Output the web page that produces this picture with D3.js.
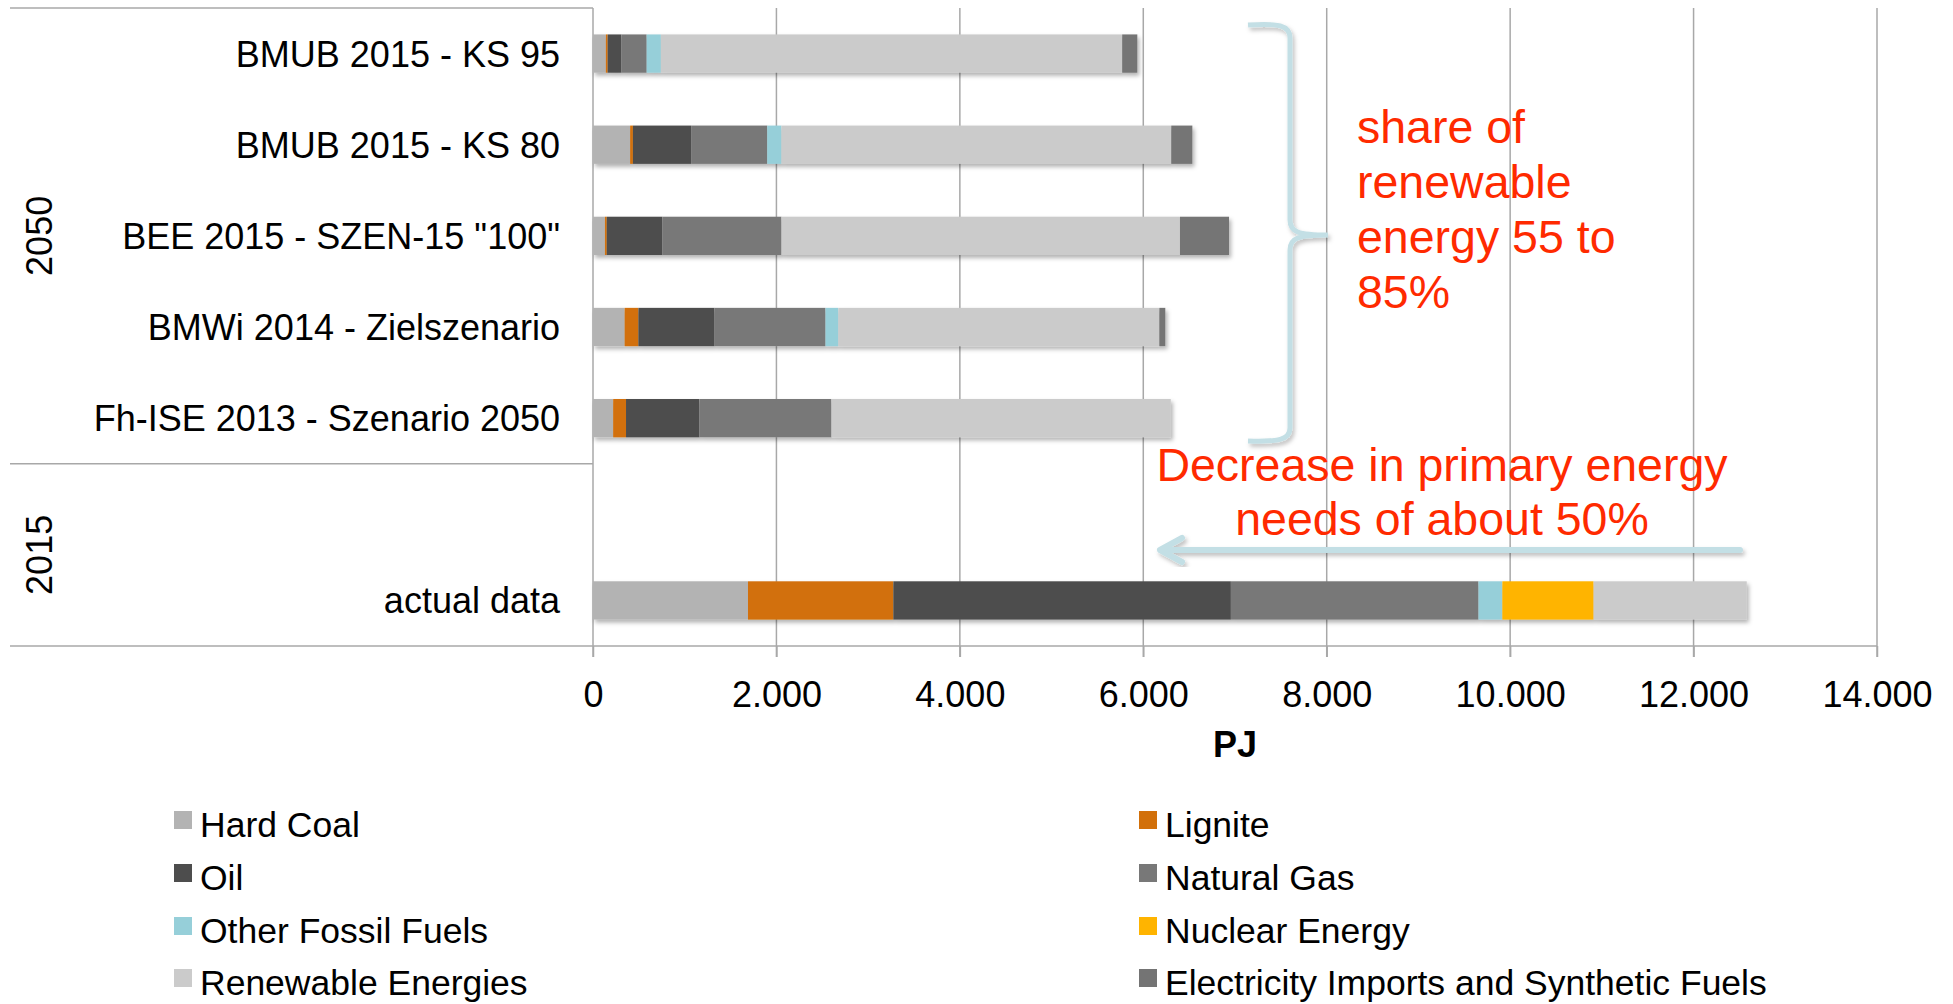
<!DOCTYPE html>
<html>
<head>
<meta charset="utf-8">
<script src="https://cdn.jsdelivr.net/npm/d3@7"></script>
<style>
html,body{margin:0;padding:0;background:#fff;}
svg{display:block;font-family:"Liberation Sans",Arial,sans-serif;}
</style>
</head>
<body>
<svg id="chart" width="1953" height="1004"></svg>
<script>
// ---------- DATA ----------
const categories = ["BMUB 2015 - KS 95", "BMUB 2015 - KS 80", "BEE 2015 - SZEN-15 \"100\"", "BMWi 2014 - Zielszenario", "Fh-ISE 2013 - Szenario 2050", "actual data"];
const groupOf = ["2050", "2050", "2050", "2050", "2050", "2015"];
const groups = ["2050", "2015"];
const seriesNames = ["Hard Coal", "Lignite", "Oil", "Natural Gas", "Other Fossil Fuels", "Nuclear Energy", "Renewable Energies", "Electricity Imports and Synthetic Fuels"];
const hardCoal   = [140, 405, 130, 345, 220, 1690];
const lignite    = [20, 30, 20, 150, 140, 1585];
const oil        = [150, 635, 605, 830, 800, 3680];
const naturalGas = [275, 830, 1300, 1210, 1440, 2700];
const otherFossil= [155, 155, 0, 140, 0, 260];
const nuclear    = [0, 0, 0, 0, 0, 995];
const renewables = [5030, 4250, 4345, 3500, 3700, 1670];
const imports    = [165, 230, 535, 65, 0, 0];
const xTicks = [0, 2000, 4000, 6000, 8000, 10000, 12000, 14000];
const xTitle = "PJ";
const noteShare = ["share of", "renewable", "energy 55 to", "85%"];
const noteDecrease = ["Decrease in primary energy", "needs of about 50%"];

const seriesValues = [hardCoal, lignite, oil, naturalGas, otherFossil, nuclear, renewables, imports];
const colors = ["#b3b3b3", "#d2700a", "#4d4d4d", "#787878", "#96cfd9", "#ffb400", "#cbcbcb", "#747474"];

// ---------- LAYOUT ----------
const svg = d3.select("#chart");
const plotLeft = 593, plotRight = 1877, plotTop = 8, plotBottom = 646;

// slots: 5 scenarios, one empty slot, actual data
const slots = [categories[0], categories[1], categories[2], categories[3], categories[4], "__gap__", categories[5]];
const x = d3.scaleLinear().domain([0, 14000]).range([plotLeft, plotRight]);
const y = d3.scaleBand().domain(slots).range([plotTop, plotBottom]).paddingInner(0.58).paddingOuter(0.29);
const step = y.step();

const defs = svg.append("defs");
const f = defs.append("filter").attr("id", "shadow").attr("x", "-5%").attr("y", "-30%").attr("width", "110%").attr("height", "170%");
f.append("feDropShadow").attr("dx", 2).attr("dy", 3).attr("stdDeviation", 2).attr("flood-color", "#000").attr("flood-opacity", 0.3);

const gridColor = "#a8a8a8";

// gridlines + tick extensions
svg.append("g").selectAll("line").data(xTicks.slice(1)).join("line")
  .attr("x1", d => x(d)).attr("x2", d => x(d))
  .attr("y1", plotTop).attr("y2", plotBottom + 11)
  .attr("stroke", gridColor).attr("stroke-width", 1.5);

// x-axis via d3.axisBottom for labels
const xAxis = d3.axisBottom(x).tickValues(xTicks)
  .tickFormat(d => d3.format(",")(d).replace(/,/g, "."))
  .tickSize(11).tickPadding(24);
const gx = svg.append("g").attr("transform", `translate(0,${plotBottom})`).call(xAxis);
gx.select(".domain").remove();
gx.selectAll(".tick line").attr("stroke", gridColor).attr("stroke-width", 1.5);
gx.selectAll(".tick text").attr("font-size", 36).attr("fill", "#000")
  .attr("font-family", "'Liberation Sans', Arial, sans-serif");

// x title
svg.append("text").attr("x", (plotLeft + plotRight) / 2).attr("y", 757)
  .attr("text-anchor", "middle").attr("font-size", 36).attr("font-weight", "bold").text(xTitle);

// axis frame lines
const frame = svg.append("g").attr("stroke", gridColor).attr("stroke-width", 1.5);
frame.append("line").attr("x1", plotLeft).attr("x2", plotLeft).attr("y1", plotTop).attr("y2", plotBottom + 11);
frame.append("line").attr("x1", 10).attr("x2", plotRight).attr("y1", plotBottom).attr("y2", plotBottom);
frame.append("line").attr("x1", 10).attr("x2", plotLeft).attr("y1", plotTop).attr("y2", plotTop);
frame.append("line").attr("x1", 10).attr("x2", plotLeft)
  .attr("y1", plotTop + step * 5).attr("y2", plotTop + step * 5);

// stacked bars
const rows = categories.map((c, i) => {
  const r = { cat: c };
  seriesNames.forEach((s, j) => r[s] = seriesValues[j][i]);
  return r;
});
const stack = d3.stack().keys(seriesNames)(rows);
const barG = svg.append("g");
categories.forEach((c, i) => {
  const g = barG.append("g").attr("filter", "url(#shadow)");
  stack.forEach((layer, j) => {
    const d = layer[i];
    if (d[1] - d[0] <= 0) return;
    g.append("rect")
      .attr("x", x(d[0])).attr("width", x(d[1]) - x(d[0]))
      .attr("y", y(c)).attr("height", y.bandwidth())
      .attr("fill", colors[j]);
  });
});

// category labels
svg.append("g").selectAll("text").data(categories).join("text")
  .attr("x", 560).attr("y", d => y(d) + y.bandwidth() / 2)
  .attr("dy", "0.36em").attr("text-anchor", "end").attr("font-size", 36).attr("fill", "#000")
  .text(d => d);

// group labels
const groupCenters = groups.map(g => {
  const idx = slots.map((s, i) => i).filter(i => (i < 5 ? "2050" : "2015") === g);
  return plotTop + step * (d3.min(idx) + d3.max(idx) + 1) / 2;
});
svg.append("g").selectAll("text").data(groups).join("text")
  .attr("transform", (d, i) => `translate(39,${groupCenters[i]}) rotate(-90)`)
  .attr("text-anchor", "middle").attr("dy", "0.36em").attr("font-size", 36).text(d => d);

// ---------- ANNOTATIONS ----------
const noteBlue = "#c3dfe5";
const red = "#ff2a00";
const aF = defs.append("filter").attr("id", "ashadow").attr("x", "-20%").attr("y", "-20%").attr("width", "140%").attr("height", "140%");
aF.append("feDropShadow").attr("dx", 2).attr("dy", 3).attr("stdDeviation", 2).attr("flood-color", "#000").attr("flood-opacity", 0.25);

svg.append("path")
  .attr("d", "M1248,25 C1278,23 1290,25 1290,38 L1290,220 C1290,232 1298,235 1328,235 C1298,235 1290,238 1290,250 L1290,428 C1290,440 1278,442 1248,441")
  .attr("fill", "none").attr("stroke", noteBlue).attr("stroke-width", 5).attr("filter", "url(#ashadow)");

svg.append("g").selectAll("text").data(noteShare).join("text")
  .attr("x", 1357).attr("y", (d, i) => 143 + i * 55)
  .attr("font-size", 46.5).attr("fill", red).text(d => d);

svg.append("g").selectAll("text").data(noteDecrease).join("text")
  .attr("x", 1442).attr("y", (d, i) => 481 + i * 54)
  .attr("text-anchor", "middle").attr("font-size", 46.5).attr("fill", red).text(d => d);

const arrow = svg.append("g").attr("filter", "url(#ashadow)").attr("stroke", noteBlue)
  .attr("stroke-width", 6).attr("fill", "none").attr("stroke-linecap", "round").attr("stroke-linejoin", "round");
arrow.append("line").attr("x1", 1740).attr("x2", 1162).attr("y1", 550).attr("y2", 550);
arrow.append("path").attr("d", "M1182,538 L1160,550 L1182,562");

// ---------- LEGEND ----------
const legendPos = [
  [174, 837], [1139, 837],
  [174, 890], [1139, 890],
  [174, 943], [1139, 943],
  [174, 995], [1139, 995]
];
const lg = svg.append("g");
seriesNames.forEach((s, i) => {
  const [lx, ly] = legendPos[i];
  lg.append("rect").attr("x", lx).attr("y", ly - 26).attr("width", 18).attr("height", 18).attr("fill", colors[i]);
  lg.append("text").attr("x", lx + 26).attr("y", ly).attr("font-size", 35.5).attr("fill", "#000").text(s);
});
</script>
</body>
</html>
